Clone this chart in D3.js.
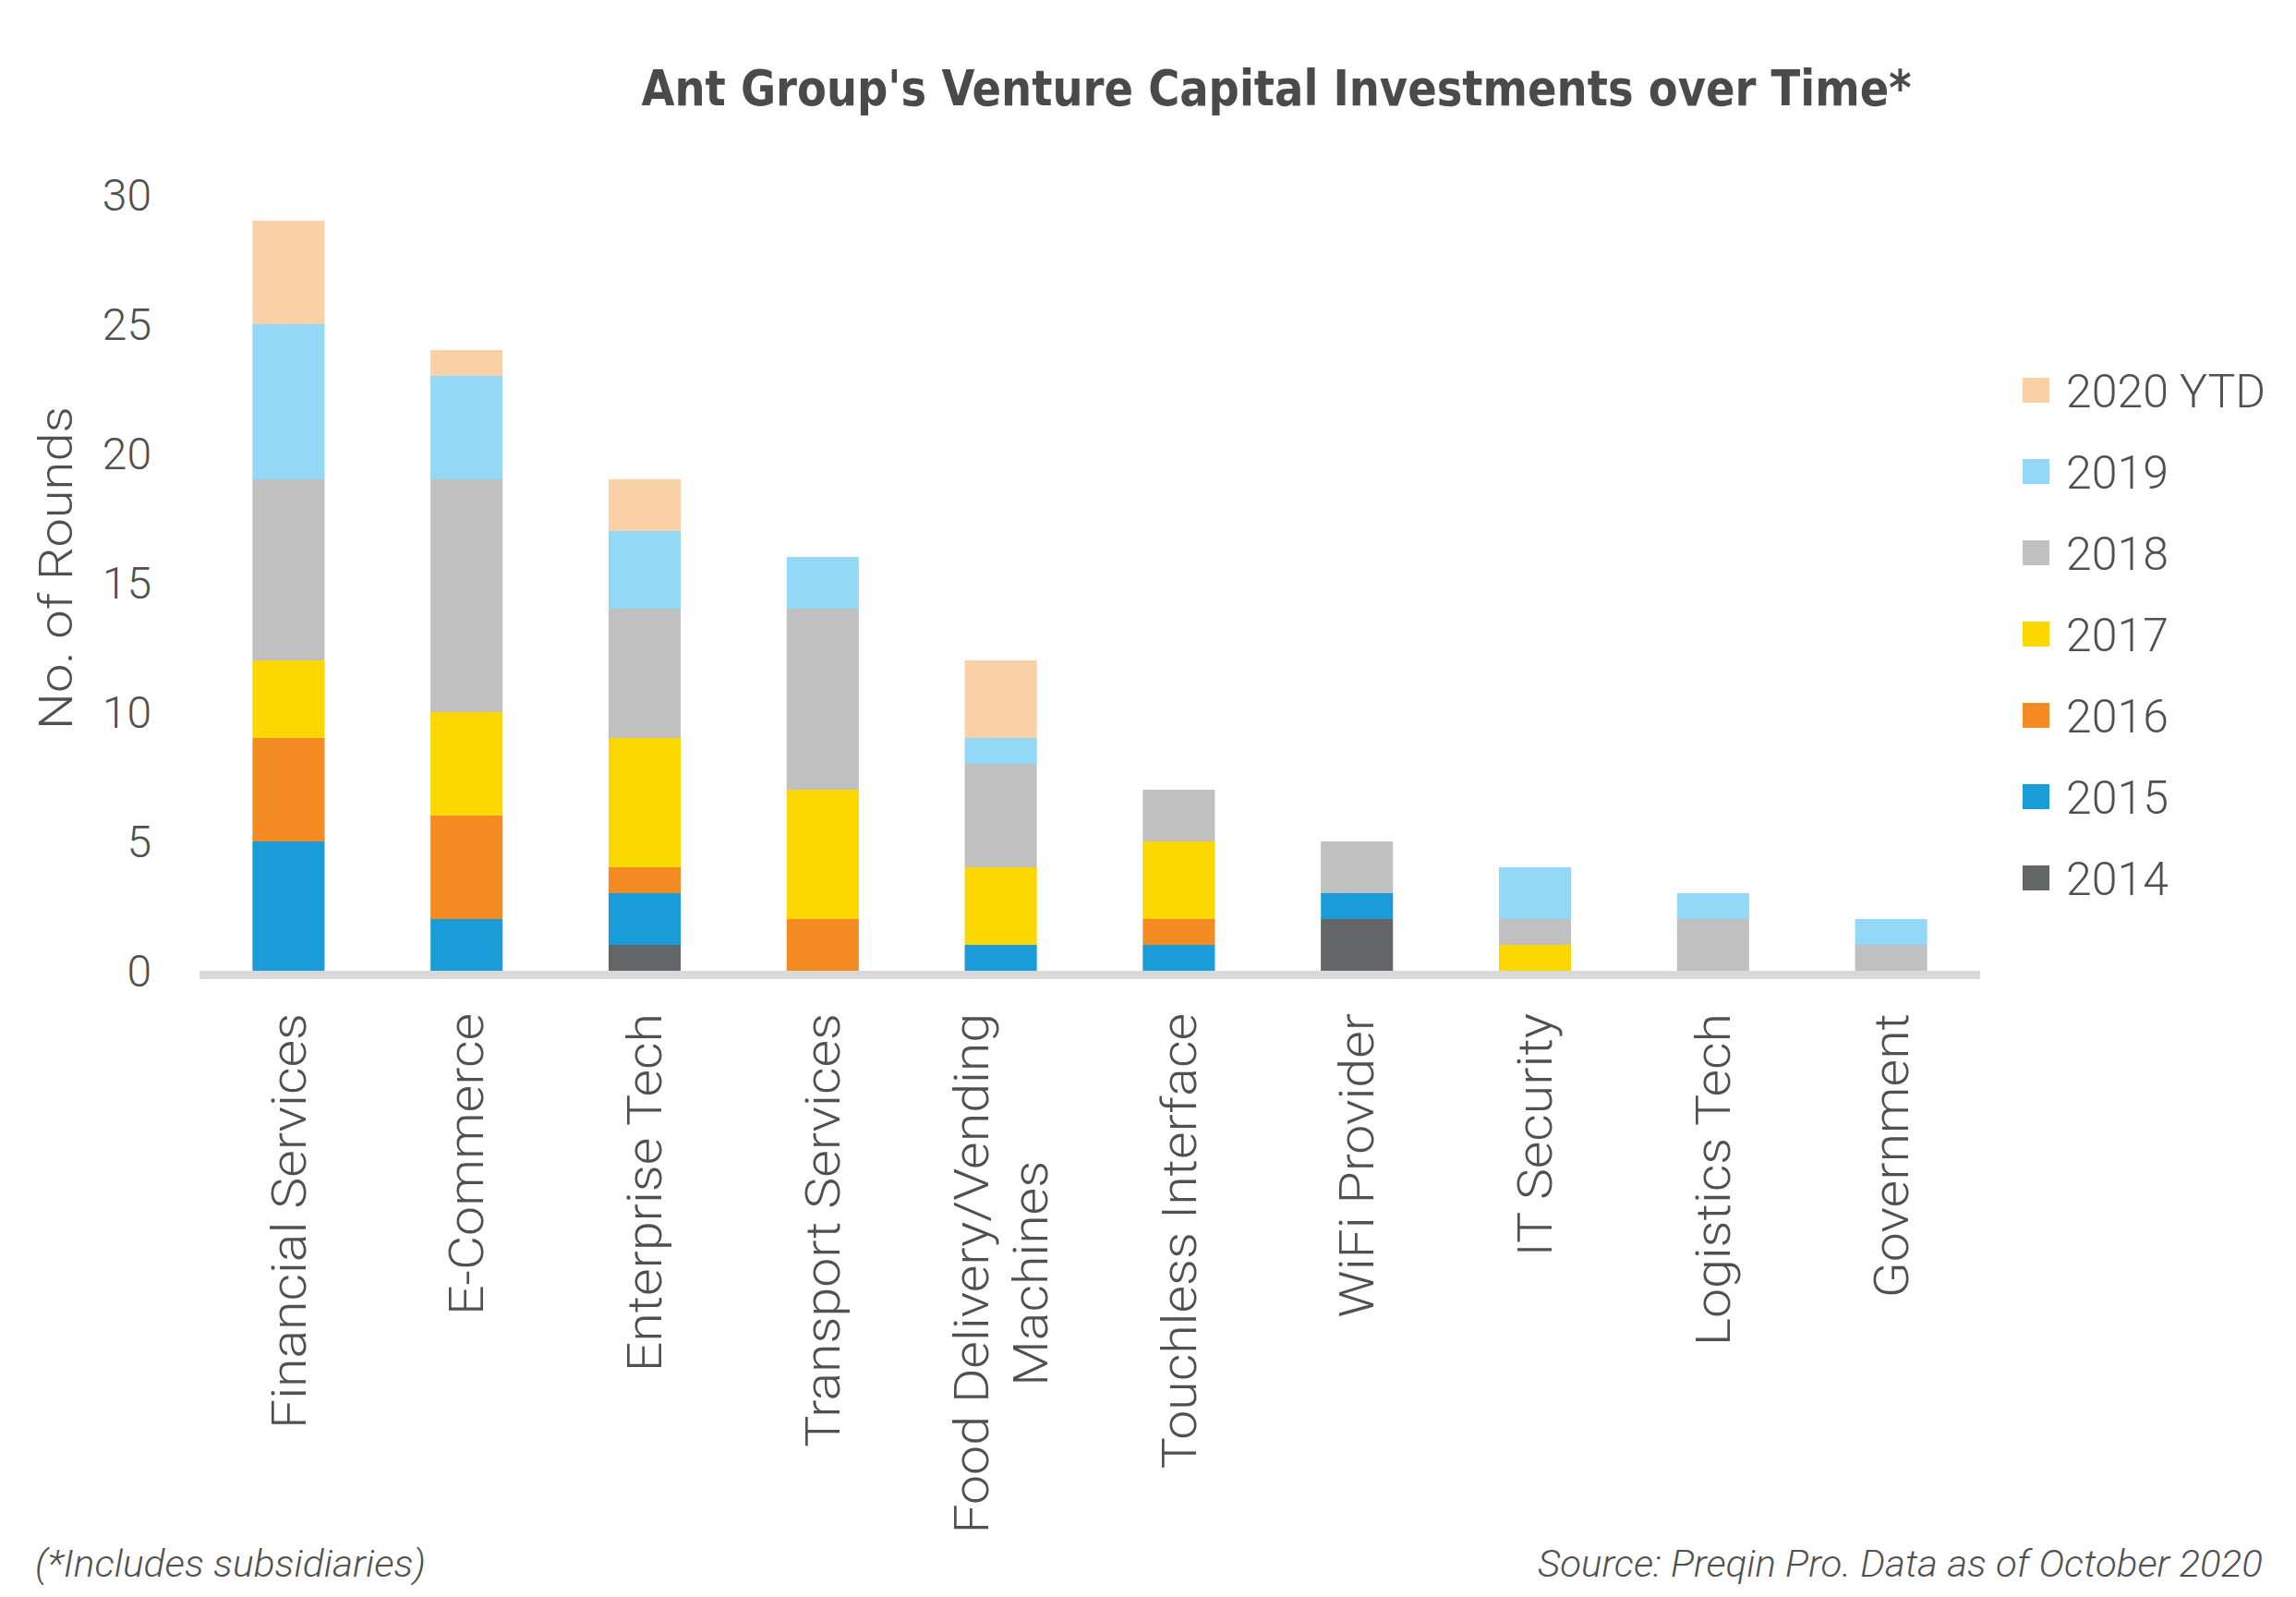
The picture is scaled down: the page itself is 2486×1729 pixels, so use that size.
<!DOCTYPE html>
<html><head><meta charset="utf-8">
<script src="https://cdn.jsdelivr.net/npm/d3@7"></script>
<style>
html,body{margin:0;padding:0;background:#fff;}
svg{display:block;}
</style></head>
<body>
<script>
const categories = ["Financial Services","E-Commerce","Enterprise Tech","Transport Services","Food Delivery/Vending Machines","Touchless Interface","WiFi Provider","IT Security","Logistics Tech","Government"];
const categoryLines = [["Financial Services"],["E-Commerce"],["Enterprise Tech"],["Transport Services"],["Food Delivery/Vending","Machines"],["Touchless Interface"],["WiFi Provider"],["IT Security"],["Logistics Tech"],["Government"]];
const seriesNames = ["2014","2015","2016","2017","2018","2019","2020 YTD"];
const v2014 = [0,0,1,0,0,0,2,0,0,0];
const v2015 = [5,2,2,0,1,1,1,0,0,0];
const v2016 = [4,4,1,2,0,1,0,0,0,0];
const v2017 = [3,4,5,5,3,3,0,1,0,0];
const v2018 = [7,9,5,7,4,2,2,1,2,1];
const v2019 = [6,4,3,2,1,0,0,2,1,1];
const v2020 = [4,1,2,0,3,0,0,0,0,0];
const seriesColors = ["#646566","#1a9cd8","#f38a22","#fdd800","#c0c0c1","#93d8f6","#fad0a6"];
const yTicks = [0,5,10,15,20,25,30];
const titleText = "Ant Group's Venture Capital Investments over Time*";
const yLabel = "No. of Rounds";
const noteLeft = "(*Includes subsidiaries)";
const noteRight = "Source: Preqin Pro. Data as of October 2020";

const W = 2486, H = 1729;
const svg = d3.select("body").append("svg").attr("width", W).attr("height", H);
const txt = "#505050";
const font = "Roboto, 'DejaVu Sans', sans-serif";

const table = categories.map((c,i)=>({cat:c,"2014":v2014[i],"2015":v2015[i],"2016":v2016[i],"2017":v2017[i],"2018":v2018[i],"2019":v2019[i],"2020 YTD":v2020[i]}));
const stacked = d3.stack().keys(seriesNames)(table);

const x = d3.scaleBand().domain(categories).range([216, 2144]).paddingInner(0.595).paddingOuter(0.2975);
const y = d3.scaleLinear().domain([0,30]).range([1051, 211]);

// bars
svg.append("g").selectAll("g").data(stacked).join("g")
  .attr("fill",(d,i)=>seriesColors[i])
  .selectAll("rect").data(d=>d).join("rect")
  .attr("x",d=>x(d.data.cat))
  .attr("width",x.bandwidth())
  .attr("y",d=>y(d[1]))
  .attr("height",d=>y(d[0])-y(d[1]));

// axis baseline
svg.append("rect").attr("x",216).attr("y",y(0)).attr("width",2144-216).attr("height",9).attr("fill","#d9d9d9");

// y axis
const yAxis = d3.axisLeft(y).tickValues(yTicks).tickSize(0).tickPadding(0);
const gy = svg.append("g").attr("transform","translate(164,0)").call(yAxis);
gy.select(".domain").remove();
gy.selectAll("text").attr("font-family",font).attr("font-size",48).attr("font-weight",300).attr("fill",txt).attr("dy","0.35em");

// y label
svg.append("text").attr("transform","translate(60,615) rotate(-90) scale(1.12,1)")
  .attr("text-anchor","middle").attr("dy","0.35em")
  .attr("font-family",font).attr("font-size",50).attr("font-weight",300).attr("fill",txt).text(yLabel);

// x labels (multi-line labels centred on their longest line)
const gx = svg.append("g");
const sx = 1.1;
categories.forEach((c,i)=>{
  const lines = categoryLines[i];
  const cx = x(c)+x.bandwidth()/2;
  const nodes = lines.map((ln,j)=>{
    const off = (j-(lines.length-1)/2)*64;
    return gx.append("text")
      .attr("text-anchor","middle").attr("dy","0.35em")
      .attr("font-family",font).attr("font-size",52).attr("font-weight",300).attr("fill",txt).text(ln)
      .attr("data-off",off);
  });
  const maxLen = d3.max(nodes, n=>n.node().getComputedTextLength()) * sx;
  nodes.forEach(n=>{
    const off = +n.attr("data-off");
    n.attr("transform",`translate(${cx+off},${1097+maxLen/2}) rotate(-90) scale(${sx},1)`);
  });
});

// title
svg.append("text").attr("x",1382).attr("y",114).attr("text-anchor","middle")
  .attr("font-family","'DejaVu Sans Condensed','DejaVu Sans',sans-serif").attr("font-weight","bold")
  .attr("font-size",54).attr("fill","#4a4a4a")
  .attr("textLength",1375).attr("lengthAdjust","spacingAndGlyphs").text(titleText);

// legend
const legendOrder = seriesNames.slice().reverse();
const lg = svg.append("g");
legendOrder.forEach((s,i)=>{
  const cy = 423 + i*88;
  const ci = seriesNames.indexOf(s);
  lg.append("rect").attr("x",2190).attr("y",cy-14).attr("width",29).attr("height",27).attr("fill",seriesColors[ci]);
  lg.append("text").attr("x",2237).attr("y",cy).attr("dy","0.35em")
    .attr("font-family",font).attr("font-size",50).attr("font-weight",300).attr("fill",txt).text(s);
});

// notes
svg.append("text").attr("x",38).attr("y",1707).attr("font-family",font).attr("font-style","italic").attr("font-weight",300)
  .attr("font-size",40).attr("fill",txt).attr("textLength",423).attr("lengthAdjust","spacingAndGlyphs").text(noteLeft);
svg.append("text").attr("x",2450).attr("y",1707).attr("text-anchor","end").attr("font-family",font).attr("font-style","italic").attr("font-weight",300)
  .attr("font-size",40).attr("fill",txt).attr("textLength",785).attr("lengthAdjust","spacingAndGlyphs").text(noteRight);
</script>
</body></html>
